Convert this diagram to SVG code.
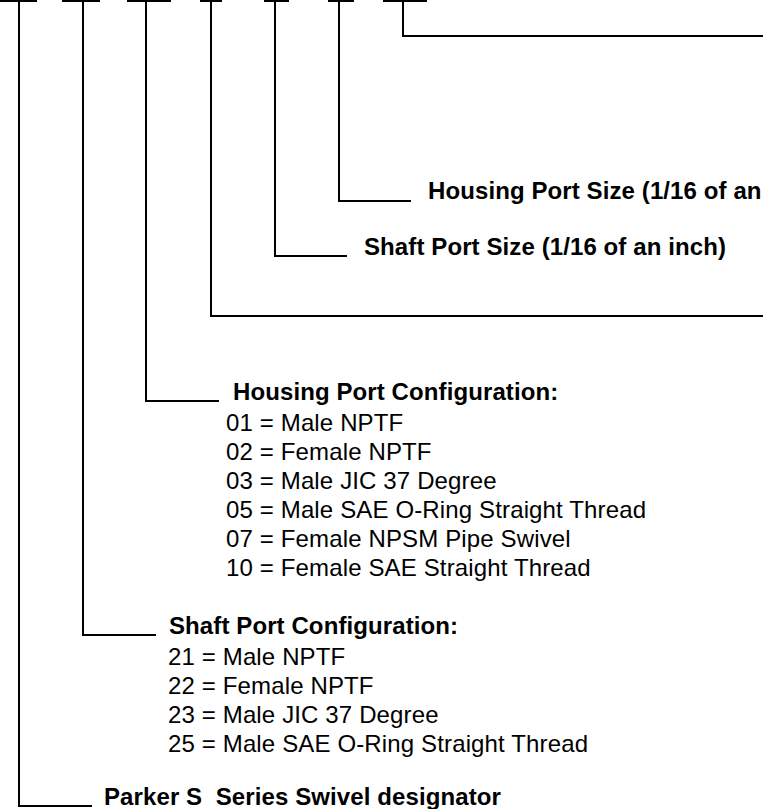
<svg xmlns="http://www.w3.org/2000/svg" width="763" height="809" viewBox="0 0 763 809">
<style>
.ln{fill:none;stroke:#000;stroke-width:2;stroke-linejoin:miter;stroke-linecap:butt}
.b{font-family:"Liberation Sans",Arial,Helvetica,sans-serif;font-weight:bold;font-size:24px;letter-spacing:0.1px;fill:#000}
.r{font-family:"Liberation Sans",Arial,Helvetica,sans-serif;font-size:24px;letter-spacing:0.14px;fill:#000}
</style>
<rect width="763" height="809" fill="#fff"/>
<g id="connectors">
<path class="ln" d="M0,1H37M62,1H100M127,1H171M200,1H222M264,1H289M328,1H354M383,1H427"/>
<polyline class="ln" points="19,0 19,806 92,806"/>
<polyline class="ln" points="83,0 83,635 156,635"/>
<polyline class="ln" points="146,0 146,401 219,401"/>
<polyline class="ln" points="211,0 211,316 763,316"/>
<polyline class="ln" points="275,0 275,256 347,256"/>
<polyline class="ln" points="339,0 339,201 411,201"/>
<polyline class="ln" points="403,0 403,36 763,36"/>
</g>
<g id="housing-port-size"><text class="b" x="428" y="199">Housing Port Size (1/16 of an</text></g>
<g id="shaft-port-size"><text class="b" x="364" y="255">Shaft Port Size (1/16 of an inch)</text></g>
<g id="housing-port-config">
<text class="b" x="233" y="400">Housing Port Configuration:</text>
<text class="r" x="226" y="431">01 = Male NPTF</text>
<text class="r" x="226" y="460">02 = Female NPTF</text>
<text class="r" x="226" y="489">03 = Male JIC 37 Degree</text>
<text class="r" x="226" y="518">05 = Male SAE O-Ring Straight Thread</text>
<text class="r" x="226" y="547">07 = Female NPSM Pipe Swivel</text>
<text class="r" x="226" y="576">10 = Female SAE Straight Thread</text>
</g>
<g id="shaft-port-config">
<text class="b" x="169" y="634">Shaft Port Configuration:</text>
<text class="r" x="168" y="665">21 = Male NPTF</text>
<text class="r" x="168" y="694">22 = Female NPTF</text>
<text class="r" x="168" y="723">23 = Male JIC 37 Degree</text>
<text class="r" x="168" y="752">25 = Male SAE O-Ring Straight Thread</text>
</g>
<g id="designator"><text class="b" x="104" y="805" xml:space="preserve">Parker S  Series Swivel designator</text></g>
</svg>
